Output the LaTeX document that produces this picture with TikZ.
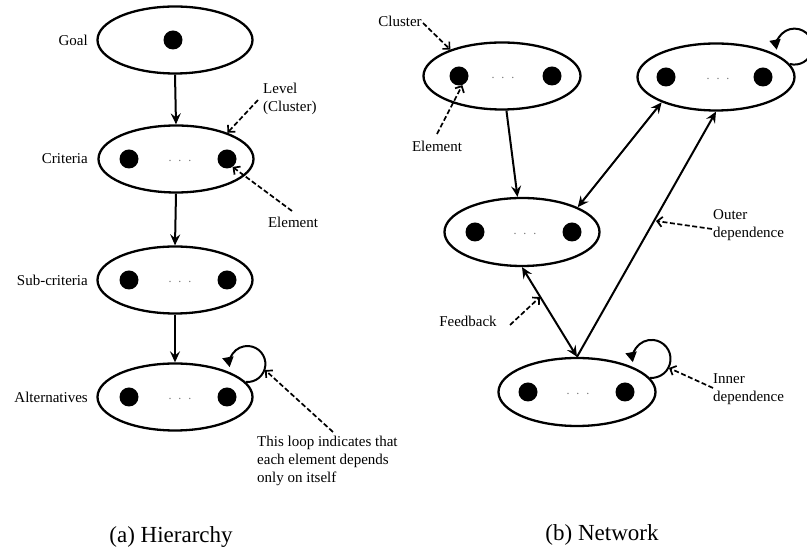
\documentclass[tikz,border=0pt]{standalone}
\usepackage{fontspec}
\setmainfont{Liberation Serif}
\usetikzlibrary{arrows.meta,shapes.geometric}
\begin{document}
\begin{tikzpicture}[x=1pt,y=1pt,
  cluster/.style={draw, ellipse, line width=2.3pt, inner sep=0pt, minimum width=155pt, minimum height=67pt},
  elem/.style={fill=black, circle, inner sep=0pt, minimum size=19pt},
  ddd/.style={inner sep=0pt, text=black!55, font=\fontsize{12}{12}\selectfont},
  lbl/.style={font=\fontsize{15}{18}\selectfont, inner sep=0pt},
  lblml/.style={lbl, align=left, anchor=north west},
  captext/.style={font=\fontsize{23}{27}\selectfont, inner sep=0pt},
  flow/.style={line width=2pt, -{Stealth[length=11pt,width=10pt,inset=4pt]}},
  biflow/.style={line width=2pt, {Stealth[length=11pt,width=10pt,inset=4pt]}-{Stealth[length=11pt,width=10pt,inset=4pt]}},
  note/.style={line width=1.7pt, dash pattern=on 5pt off 2.5pt, -{Straight Barb[length=5pt,width=10pt]}},
  selfloop/.style={line width=2pt, -{Triangle[length=10pt,width=11pt]}},
]
\useasboundingbox (0,0) rectangle (807,554);
\newcommand{\dotsrow}{.\hspace{7pt}.\hspace{7pt}.}

% ---------- (a) Hierarchy ----------
\node[cluster] (goal) at (175,514) {};
\node[cluster] (crit) at (176,395) {};
\node[cluster] (sub)  at (175,274) {};
\node[cluster] (alt)  at (175,157) {};

\node[elem] (g1) at (173,514) {};
\node[elem] (c1) at (129,395) {};
\node[elem] (c2) at (227,395) {};
\node[ddd]  (cd) at (180,393) {\dotsrow};
\node[elem] (s1) at (129,274) {};
\node[elem] (s2) at (227,274) {};
\node[ddd]  (sd) at (180,272) {\dotsrow};
\node[elem] (a1) at (129,157) {};
\node[elem] (a2) at (227,157) {};
\node[ddd]  (ad) at (180,155) {\dotsrow};

\node[lbl, anchor=east] (lgoal) at (88,514) {Goal};
\node[lbl, anchor=east] (lcrit) at (88,395) {Criteria};
\node[lbl, anchor=east] (lsub)  at (88,274) {Sub-criteria};
\node[lbl, anchor=east] (lalt)  at (88,157) {Alternatives};

\draw[flow] (goal.south) -- (crit.north);
\draw[flow] (crit.south) -- (sub.north);
\draw[flow] (sub.south) -- (alt.north);

\node[lblml] (llevel) at (263,471) {Level\\(Cluster)};
\coordinate (levelfrom) at (258,454);
\draw[note] (levelfrom) -- (crit.27);

\node[lbl] (lelemA) at (293,332) {Element};
\coordinate (elemAfrom) at (292,343);
\draw[note] (elemAfrom) -- (c2.-55);

\draw[selfloop] (alt.12) arc[start angle=-95, end angle=190, radius=18];
\node[lblml] (lloop) at (257,118) {This loop indicates that\\each element depends\\only on itself};
\coordinate (loopfrom) at (333,122);
\coordinate (loopto) at (265,184);
\draw[note] (loopfrom) -- (loopto);

\node[captext] (capa) at (171,17) {(a) Hierarchy};

% ---------- (b) Network ----------
\node[cluster, minimum width=157pt] (A) at (502,478) {};
\node[cluster, minimum width=157pt] (B) at (716,477) {};
\node[cluster, minimum height=68pt] (C) at (522,322) {};
\node[cluster, minimum width=157pt, minimum height=68pt] (D) at (577,162) {};

\node[elem] (A1) at (459,478) {};
\node[elem] (A2) at (552,478) {};
\node[ddd]  (Ad) at (503,476) {\dotsrow};
\node[elem] (B1) at (666,477) {};
\node[elem] (B2) at (763,477) {};
\node[ddd]  (Bd) at (718,475) {\dotsrow};
\node[elem] (C1) at (475,322) {};
\node[elem] (C2) at (572,322) {};
\node[ddd]  (Cd) at (525,320) {\dotsrow};
\node[elem] (D1) at (528,162) {};
\node[elem] (D2) at (625,162) {};
\node[ddd]  (Dd) at (578,160) {\dotsrow};

\draw[flow] (A) -- (C);
\draw[biflow] (C.24) -- (B.205);
\draw[flow] (D.north) -- (B.south);
\draw[biflow] (C.south) -- (D.north);

\draw[selfloop] (B.10) arc[start angle=-105, end angle=190, radius=18];
\draw[selfloop] (D.11) arc[start angle=-95, end angle=190, radius=19];

\node[lbl] (lclus) at (400,533) {Cluster};
\coordinate (clusfrom) at (423,531);
\draw[note] (clusfrom) -- (A.153);

\node[lbl] (lelemB) at (437,408) {Element};
\coordinate (elemBfrom) at (437,420);
\draw[note] (elemBfrom) -- (A1.-70);

\node[lblml] (louter) at (713,345) {Outer\\dependence};
\coordinate (outerfrom) at (712,325);
\coordinate (outerto) at (656,333);
\draw[note] (outerfrom) -- (outerto);

\node[lbl] (lfeed) at (468,233) {Feedback};
\coordinate (feedfrom) at (510,229);
\coordinate (feedto) at (540,257);
\draw[note] (feedfrom) -- (feedto);

\node[lblml] (linner) at (713,181) {Inner\\dependence};
\coordinate (innerfrom) at (713,166);
\coordinate (innerto) at (669,186);
\draw[note] (innerfrom) -- (innerto);

\node[captext] (capb) at (602,19) {(b) Network};
\end{tikzpicture}
\end{document}
